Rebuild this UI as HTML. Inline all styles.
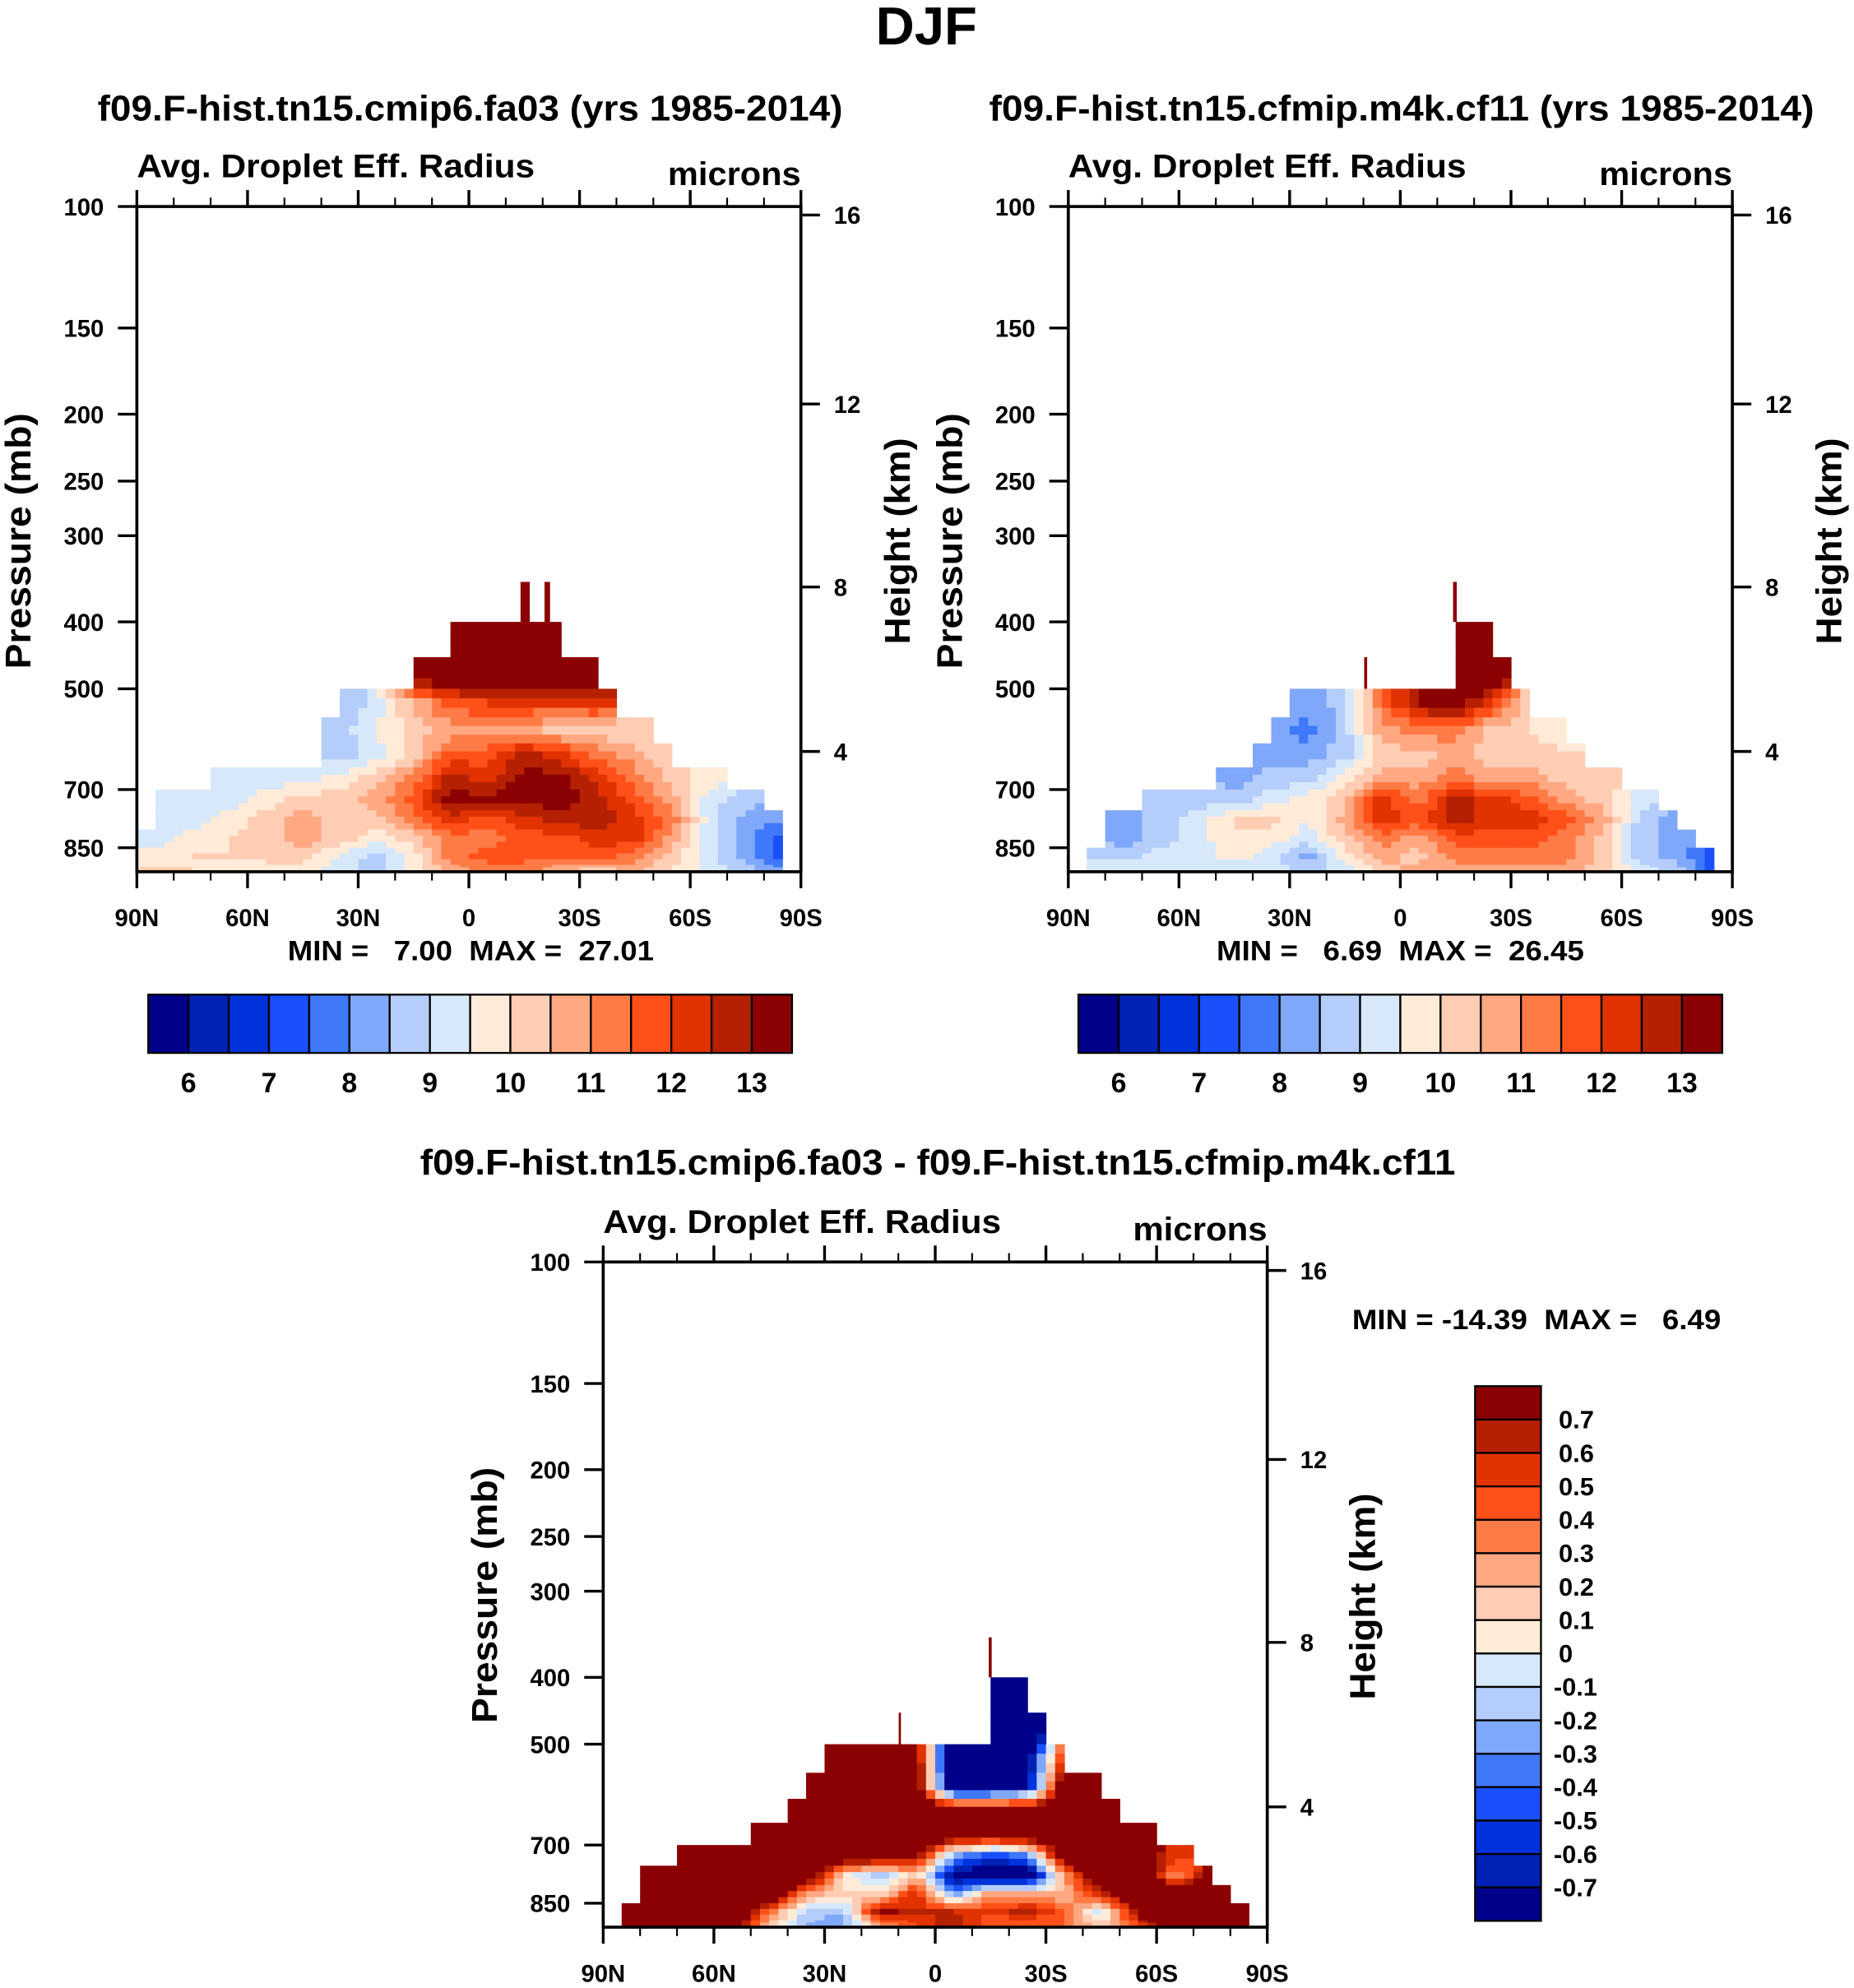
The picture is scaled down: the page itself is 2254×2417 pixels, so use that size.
<!DOCTYPE html>
<html><head><meta charset="utf-8"><title>DJF Avg. Droplet Eff. Radius</title>
<style>
html,body{margin:0;padding:0;background:#fff;}
svg{display:block;}
text{font-family:"Liberation Sans",Arial,sans-serif;font-weight:bold;fill:#000;}
</style></head>
<body>
<svg id="fig" xmlns="http://www.w3.org/2000/svg" width="2254" height="2417" viewBox="0 0 1463 1569" preserveAspectRatio="none">
<rect x="0" y="0" width="1463" height="1569" fill="#fff"/>
</svg>
<script>
const N = null;
// pressure row edges (mb)
const rowEdges = [350,400,450,500,550,600,650,700,750,800,850,900,921];
// latitude column centres (10-degree columns 85N..85S)
const colLats = [85,75,65,55,45,35,25,15,5,-5,-15,-25,-35,-45,-55,-65,-75,-85];
const latTicks = [90,60,30,0,-30,-60,-90];
const latTickLabels = ["90N","60N","30N","0","30S","60S","90S"];
const presTicks = [100,150,200,250,300,400,500,700,850];
const heightTicks = [16,12,8,4];
const fillLevels = [6,6.5,7,7.5,8,8.5,9,9.5,10,10.5,11,11.5,12,12.5,13];
const fillLabels = ["6","7","8","9","10","11","12","13"];
const diffLevels = [-0.7,-0.6,-0.5,-0.4,-0.3,-0.2,-0.1,0,0.1,0.2,0.3,0.4,0.5,0.6,0.7];
const diffLabels = ["0.7","0.6","0.5","0.4","0.3","0.2","0.1","0","-0.1","-0.2","-0.3","-0.4","-0.5","-0.6","-0.7"];
const colors = ["#00008b","#0022b4","#0032dc","#1a50fa","#4078fa","#80a8fa","#b4cdfa","#d7e8fa","#ffebd8","#ffcdb4","#ffa882","#ff7b46","#ff5019","#e13200","#b42000","#8b0000"];

// data top (mb) for 5-degree columns from 90N to 90S; null = no data
const topFa03 = [800,700,700,700,650,650,650,650,650,650,550,500,500,500,500,450,450,400,400,400,400,400,400,450,450,500,550,550,600,650,650,650,700,700,750,N];
const topCf11 = [N,850,750,750,700,700,700,700,650,650,600,550,500,500,500,500,500,500,500,500,500,400,400,450,500,550,550,600,650,650,700,700,750,800,850,N];
const topDiff = [N,850,750,750,700,700,700,700,650,650,600,550,500,500,500,500,500,500,500,500,500,400,400,450,500,550,550,600,650,650,700,700,750,800,850,N];

// narrow spikes: [latStart, latEnd, topPressure]
const spikesFa03 = [[-14,-16.5,350],[-20.5,-22,350]];
const spikesCf11 = [[-14.3,-15.3,350],[9.8,9.0,450]];
const spikesDiff = [[-14.5,-15.3,350],[9.9,9.3,450]];

// values rows (350-400 ... 900-921) x 10-degree columns
const valsFa03 = [
 [N,N,N,N,N,N,N,N,N,N,N,N,N,N,N,N,N,N],
 [N,N,N,N,N,N,N,N,14,14,14,14,14,N,N,N,N,N],
 [N,N,N,N,N,N,N,14,14,14,14,14,14,N,N,N,N,N],
 [N,N,N,N,N,8.5,9.25,10.5,11.75,12,12,12,12.25,N,N,N,N,N],
 [N,N,N,N,N,8.75,9.5,10.25,10.75,10.75,10.75,10.25,10.25,10,N,N,N,N],
 [N,N,N,N,9.25,8.75,9.25,10.25,11.75,11.75,12.75,12.25,11.25,10.75,10,N,N,N],
 [N,N,9.25,9.25,9.25,9.75,10.25,11.25,12.75,12.25,13.25,13.25,12.25,11.25,10.25,9.75,N,N],
 [9.25,9.25,9.25,9.75,10.25,10.25,10.75,11.75,13.25,13.25,13.25,13.25,12.75,11.75,10.75,9.25,8.75,N],
 [9.25,9.25,9.75,10.25,10.75,10.25,10.25,11.25,12.25,11.75,12.25,12.75,12.75,12.25,11.25,9.25,8.25,8],
 [9.25,9.75,10,10.25,10.75,10.25,9.75,10.25,11.25,11.25,11.75,11.75,12.25,12.25,10.75,9.25,8.25,7.25],
 [9.75,10,10,10.25,10.25,9.5,8.75,9.75,11.25,11.75,11.75,11.75,11.75,11.25,10.25,9.25,8.25,7.25],
 [10,10,9.75,9.75,9.75,9.25,8.75,9.75,10.75,11.25,11.25,10.75,10.25,10.75,10,9.25,8.75,8]
];
const valsCf11 = [
 [N,N,N,N,N,N,N,N,N,N,N,N,N,N,N,N,N,N],
 [N,N,N,N,N,N,N,N,N,N,14,14,N,N,N,N,N,N],
 [N,N,N,N,N,N,N,N,N,N,14,14,N,N,N,N,N,N],
 [N,N,N,N,N,8.5,8.25,8.75,11.5,13,13.5,12,10,N,N,N,N,N],
 [N,N,N,N,N,8.25,7.75,8.75,10.75,11.25,11.25,10.25,10,9.75,N,N,N,N],
 [N,N,N,N,N,8.25,8.25,8.75,10.25,10.25,10.75,10.25,10.25,10,N,N,N,N],
 [N,N,N,8.75,8.25,8.75,8.75,9.75,10.75,10.75,11.25,10.75,10.75,10.25,10.25,N,N,N],
 [N,N,8.75,8.75,8.75,9.25,9.75,10.25,12.25,11.25,12.75,12.25,11.75,10.75,10.25,9.25,N,N],
 [N,8.25,8.75,9.25,10,10.25,9.5,10.75,12.25,11.75,12.75,12.25,12.25,11.75,10.75,8.75,8.25,N],
 [8.75,8.25,8.75,9.25,10,9.75,9.25,10.25,11.25,10.75,11.75,11.75,11.75,11.25,10.25,8.75,8.25,N],
 [9,8.75,9.25,9.25,9.75,9.25,8.25,9.75,10.75,10.25,11.25,11.25,11.25,11.25,10.25,8.75,8.25,7.25],
 [9.25,9.25,9.25,9.25,9.25,9.25,8.75,9.25,10.25,10.75,10.75,10.75,10.75,10.75,10.25,9.25,8.75,7.25]
];
const valsDiff = [
 [N,N,N,N,N,N,N,N,N,N,N,N,N,N,N,N,N,N],
 [N,N,N,N,N,N,N,N,N,N,-1,-1,N,N,N,N,N,N],
 [N,N,N,N,N,N,N,N,N,N,-1,-1,N,N,N,N,N,N],
 [N,N,N,N,N,1,1,1,0.8,-1,-1,-0.8,0.6,N,N,N,N,N],
 [N,N,N,N,N,1,1,1,0.9,-1,-1,-0.8,1,1,N,N,N,N],
 [N,N,N,N,1,1,1,1,1,1,1,1,1,1,1,N,N,N],
 [N,N,1,1,1,1,1,1,1,1,1,1,1,1,1,0.6,N,N],
 [N,1,1,1,1,1,1,1,0.8,-0.2,-0.5,-0.3,1,1,1,0.5,N,N],
 [N,1,1,1,1,1,0.1,-0.2,0.2,-0.8,-1,-1,0.3,1,1,0.3,0.8,N],
 [1,1,1,1,1,0.3,0.1,0.1,0.6,-0.3,0.3,0.2,0.2,0.6,1,1,0.8,N],
 [0.7,1,1,1,0.4,-0.15,-0.2,0.8,0.6,0.6,0.5,0.7,0.4,-0.1,0.8,1,1,1],
 [0.7,1,1,0.9,0.2,-0.2,-0.25,0.3,0.5,0.7,0.4,0.4,0.4,0.1,0.5,1,1,1]
];

const SVGNS = "http://www.w3.org/2000/svg";
const svg = document.getElementById("fig");
const PW = 524, PH = 525, PK = 544.5;

function mk(tag, attrs, parent) {
  const e = document.createElementNS(SVGNS, tag);
  for (const k in attrs) e.setAttribute(k, attrs[k]);
  (parent || svg).appendChild(e);
  return e;
}
function txt(str, x, y, size, anchor, len, parent, rot) {
  const t = mk("text", {x: x, y: y, "font-size": size, "text-anchor": anchor || "start"}, parent);
  if (len) { t.setAttribute("textLength", len); t.setAttribute("lengthAdjust", "spacingAndGlyphs"); }
  if (rot) t.setAttribute("transform", "rotate(-90 " + x + " " + y + ")");
  t.textContent = str;
  return t;
}
function yP(p, top) { return top + PK * Math.log10(p / 100); }
function xL(lat, left) { return left + (90 - lat) / 180 * PW; }
function zToP(zkm) {
  const z = zkm * 1000;
  if (z <= 11000) return 1013.25 * Math.pow(1 - 2.25577e-5 * z, 5.25588);
  return 226.32 * Math.exp(-(z - 11000) / 6341.6);
}
function idxFill(v) {
  let i = 0;
  while (i < fillLevels.length && v >= fillLevels[i] - 1e-9) i++;
  return i;
}
function idxDiff(v) {
  let i = 0;
  while (i < diffLevels.length && v >= diffLevels[i] - 1e-9) i++;
  return i;
}
const rowCentersLog = [];
for (let r = 0; r < rowEdges.length - 1; r++) rowCentersLog.push((Math.log10(rowEdges[r]) + Math.log10(rowEdges[r + 1])) / 2);

function nearest(vals, r, vi) {
  let best = null, bd = 1e9;
  for (let rr = 0; rr < vals.length; rr++) for (let cc = 0; cc < 18; cc++) {
    if (vals[rr][cc] === null) continue;
    const d = Math.abs(rr - r) * 1.2 + Math.abs(cc - vi);
    if (d < bd) { bd = d; best = vals[rr][cc]; }
  }
  return best;
}
// bilinear interpolation between cell centres (skipping missing cells)
function interp(vals, lat, lp) {
  let fc = (85 - lat) / 10;
  fc = Math.max(0, Math.min(17, fc));
  const c0 = Math.floor(fc), c1 = Math.min(17, c0 + 1), tc = fc - c0;
  let fr;
  if (lp <= rowCentersLog[0]) fr = 0;
  else if (lp >= rowCentersLog[rowCentersLog.length - 1]) fr = rowCentersLog.length - 1;
  else {
    let k = 0;
    while (rowCentersLog[k + 1] < lp) k++;
    fr = k + (lp - rowCentersLog[k]) / (rowCentersLog[k + 1] - rowCentersLog[k]);
  }
  const r0 = Math.floor(fr), r1 = Math.min(rowCentersLog.length - 1, r0 + 1), tr = fr - r0;
  const pts = [[r0, c0, (1 - tr) * (1 - tc)], [r0, c1, (1 - tr) * tc], [r1, c0, tr * (1 - tc)], [r1, c1, tr * tc]];
  let s = 0, w = 0;
  for (const p of pts) {
    const v = vals[p[0]][p[1]];
    if (v === null || p[2] <= 0) continue;
    s += v * p[2]; w += p[2];
  }
  if (w > 0) return s / w;
  return nearest(vals, Math.round(fr), Math.round(fc));
}

function drawPanel(name, left, top, tops, vals, spikes, colorIdx) {
  const g = mk("g", {}, svg);
  
  
  const bottom = top + PH;
  const SUBC = 2, SUBR = 3;
  for (let c = 0; c < 36; c++) {
    const tp = tops[c];
    if (tp === null) continue;
    for (let sc = 0; sc < SUBC; sc++) {
      const latN = 90 - 5 * c - sc * 5 / SUBC, latS = latN - 5 / SUBC;
      const latM = (latN + latS) / 2;
      const x1 = xL(latN, left), x2 = xL(latS, left);
      for (let r = 0; r < rowEdges.length - 1; r++) {
        if (rowEdges[r] < tp - 1) continue;
        const l0 = Math.log10(rowEdges[r]), l1 = Math.log10(rowEdges[r + 1]);
        for (let sr = 0; sr < SUBR; sr++) {
          const la = l0 + (l1 - l0) * sr / SUBR, lb = l0 + (l1 - l0) * (sr + 1) / SUBR;
          const v = interp(vals, latM, (la + lb) / 2);
          if (v === null) continue;
          const y1 = top + PK * (la - 2);
          const y2 = Math.min(bottom, top + PK * (lb - 2));
          const rc = mk("rect", {x: x1.toFixed(2), y: y1.toFixed(2), width: (x2 - x1 + 0.4).toFixed(2), height: (y2 - y1 + 0.4).toFixed(2), fill: colors[colorIdx(v)]}, g);
          
          
        }
      }
    }
  }
  for (const s of spikes) {
    const x1 = xL(s[0], left), x2 = xL(s[1], left);
    const y1 = yP(s[2], top);
    const y2 = yP(s[2] === 350 ? 400 : 500, top);
    const sp = mk("rect", {x: x1, y: y1, width: x2 - x1, height: y2 - y1, fill: "#8b0000"}, g);
    
    
  }
  const fr = mk("rect", {x: left, y: top, width: PW, height: PH, fill: "none", stroke: "#000", "stroke-width": 2.4}, g);
  
  
  for (let lat = 90; lat >= -90; lat -= 10) {
    const x = xL(lat, left);
    const major = (lat % 30 === 0);
    const L = major ? 13 : 7;
    mk("line", {x1: x, y1: top, x2: x, y2: top - L, stroke: "#000", "stroke-width": major ? 2.2 : 1.4}, g);
    mk("line", {x1: x, y1: bottom, x2: x, y2: bottom + L, stroke: "#000", "stroke-width": major ? 2.2 : 1.4}, g);
  }
  for (let i = 0; i < latTicks.length; i++) {
    const t = txt(latTickLabels[i], xL(latTicks[i], left), bottom + 43, 19, "middle", null, g);
    
    
  }
  for (const p of presTicks) {
    const y = yP(p, top);
    mk("line", {x1: left - 15, y1: y, x2: left, y2: y, stroke: "#000", "stroke-width": 2.2}, g);
    const t = txt(String(p), left - 26, y + 7, 19, "end", null, g);
    
    
  }
  for (const h of heightTicks) {
    const y = yP(zToP(h), top);
    mk("line", {x1: left + PW, y1: y, x2: left + PW + 15, y2: y, stroke: "#000", "stroke-width": 2.2}, g);
    const t = txt(String(h), left + PW + 26, y + 7, 19, "start", null, g);
    
    
  }
  return g;
}

function hColorbar(name, x0, y0, w, h, labelY) {
  const g = mk("g", {}, svg);
  
  
  const bw = w / 16;
  for (let i = 0; i < 16; i++) {
    const r = mk("rect", {x: x0 + i * bw, y: y0, width: bw, height: h, fill: colors[i], stroke: "#000", "stroke-width": 1.5}, g);
    
    
  }
  for (let k = 0; k < fillLabels.length; k++) {
    const t = txt(fillLabels[k], x0 + (2 * k + 1) * bw, labelY, 22, "middle", null, g);
    
    
  }
}

const tt = txt("DJF", 731, 35, 42, "middle", 80);



let t;
t = txt("f09.F-hist.tn15.cmip6.fa03 (yrs 1985-2014)", 371, 95, 28, "middle", 588);
 
t = txt("Avg. Droplet Eff. Radius", 108, 140, 26, "start", 314);
 
t = txt("microns", 632, 146, 26, "end", 105);
 
drawPanel("panel1-plot", 108, 163, topFa03, valsFa03, spikesFa03, idxFill);
t = txt("Pressure (mb)", 24, 427, 28, "middle", 202, null, true);
 
t = txt("Height (km)", 718, 427, 28, "middle", 163, null, true);
 
t = txt("MIN =   7.00  MAX =  27.01", 227, 758, 22, "start", 289);
 
t.style.whiteSpace = 'pre';
hColorbar("panel1-colorbar", 117, 785, 508, 46, 862);

t = txt("f09.F-hist.tn15.cfmip.m4k.cf11 (yrs 1985-2014)", 1106, 95, 28, "middle", 651);
 
t = txt("Avg. Droplet Eff. Radius", 843, 140, 26, "start", 314);
 
t = txt("microns", 1367, 146, 26, "end", 105);
 
drawPanel("panel2-plot", 843, 163, topCf11, valsCf11, spikesCf11, idxFill);
t = txt("Pressure (mb)", 759, 427, 28, "middle", 202, null, true);
 
t = txt("Height (km)", 1453, 427, 28, "middle", 163, null, true);
 
t = txt("MIN =   6.69  MAX =  26.45", 960, 758, 22, "start", 290);
 
t.style.whiteSpace = 'pre';
hColorbar("panel2-colorbar", 851, 785, 508, 46, 862);

t = txt("f09.F-hist.tn15.cmip6.fa03 - f09.F-hist.tn15.cfmip.m4k.cf11", 740, 927, 28, "middle", 817);
 
t = txt("Avg. Droplet Eff. Radius", 476, 973, 26, "start", 314);
 
t = txt("microns", 1000, 979, 26, "end", 106);
 
drawPanel("diff-plot", 476, 996, topDiff, valsDiff, spikesDiff, idxDiff);
t = txt("Pressure (mb)", 392, 1259, 28, "middle", 202, null, true);
 
t = txt("Height (km)", 1085, 1260, 28, "middle", 163, null, true);
 
t = txt("MIN = -14.39  MAX =   6.49", 1067, 1049, 22, "start", 291);
 
t.style.whiteSpace = 'pre';

const vg = mk("g", {}, svg);


const vbh = (1516 - 1094) / 16;
for (let i = 0; i < 16; i++) {
  const r = mk("rect", {x: 1164, y: 1094 + i * vbh, width: 52, height: vbh, fill: colors[15 - i], stroke: "#000", "stroke-width": 1.5}, vg);
  
  
}
for (let k = 0; k < diffLabels.length; k++) {
  const lab = diffLabels[k];
  const x = lab.charAt(0) === "-" ? 1226 : 1230;
  const tl = txt(lab, x, 1094 + (k + 1) * vbh + 7, 20, "start", null, vg);
  
  
}
</script>
</body></html>
